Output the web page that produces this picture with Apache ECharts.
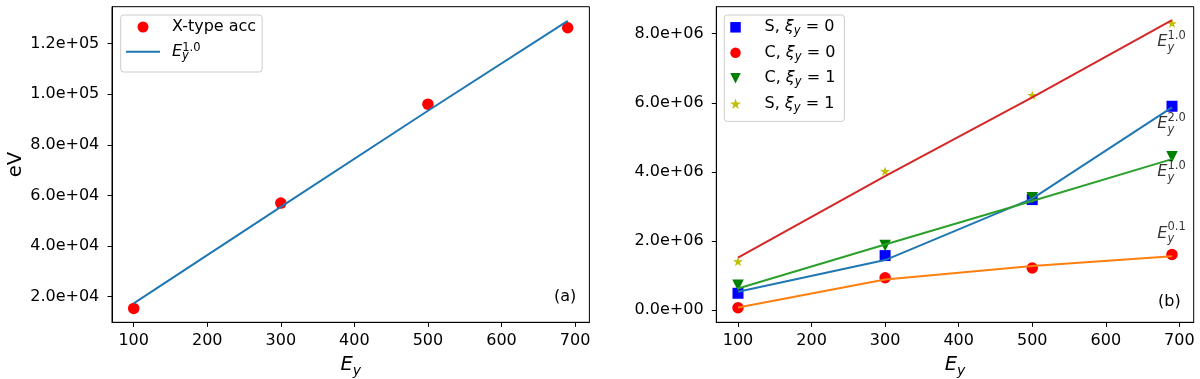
<!DOCTYPE html>
<html>
<head>
<meta charset="utf-8">
<script src="https://cdn.jsdelivr.net/npm/echarts@6/dist/echarts.min.js"></script>
<style>
html,body{margin:0;padding:0;background:#fff;}
#c{width:1200px;height:379px;}
</style>
</head>
<body>
<div id="c"></div>
<script>
// ---------- data ----------
const xVals = [100, 300, 500, 690];
const xTicks = [100, 200, 300, 400, 500, 600, 700];

// panel (a)
const aTicksY = [20000, 40000, 60000, 80000, 100000, 120000];
const aPoints = [15400, 57000, 96100, 126300];
const aFit = [17400, 55500, 93500, 129000];

// panel (b)
const bTicksY = [0, 2000000, 4000000, 6000000, 8000000];
const bS0 = [490000, 1580000, 3200000, 5900000];   // S, xi_y = 0 (squares)
const bC0 = [70000, 940000, 1220000, 1610000];     // C, xi_y = 0 (circles)
const bC1 = [720000, 1870000, 3250000, 4440000];   // C, xi_y = 1 (triangles)
const bS1 = [1410000, 4020000, 6220000, 8300000];  // S, xi_y = 1 (stars)
const fitS1 = [1520000, 3880000, 6160000, 8390000]; // red
const fitS0 = [535000, 1450000, 3230000, 5870000];  // blue
const fitC1 = [630000, 1900000, 3160000, 4370000];  // green
const fitC0 = [80000, 890000, 1280000, 1560000];    // orange
const bAnnotExp = ['1.0', '2.0', '1.0', '0.1'];

// ---------- helpers ----------
const pair = (xs, ys) => xs.map((x, i) => [x, ys[i]]);
function sci(v) {
  const s = Number(v).toExponential(1);
  const parts = s.split('e');
  const sign = parts[1][0];
  const d = parts[1].slice(1).padStart(2, '0');
  return parts[0] + 'e' + sign + d;
}
const FONT = 'DejaVu Sans';
const mathRich = {
  e: {fontFamily: FONT, fontStyle: 'italic', fontSize: 16, color: '#000', lineHeight: 24, verticalAlign: 'middle'},
  sb: {fontFamily: FONT, fontStyle: 'italic', fontSize: 11.5, color: '#000', lineHeight: 12, verticalAlign: 'bottom', width: 0.1},
  sp: {fontFamily: FONT, fontSize: 11.5, color: '#000', lineHeight: 12, verticalAlign: 'top'}
};
const legRich = {
  n: {fontFamily: FONT, fontSize: 16, color: '#000', lineHeight: 20, verticalAlign: 'middle'},
  i: {fontFamily: FONT, fontStyle: 'italic', fontSize: 16, color: '#000', lineHeight: 20, verticalAlign: 'middle'},
  s: {fontFamily: FONT, fontStyle: 'italic', fontSize: 11.5, color: '#000', lineHeight: 11, verticalAlign: 'bottom'},
  e: {fontFamily: FONT, fontStyle: 'italic', fontSize: 16, color: '#000', lineHeight: 20, verticalAlign: 'middle'},
  sb: {fontFamily: FONT, fontStyle: 'italic', fontSize: 11.5, color: '#000', lineHeight: 10, verticalAlign: 'bottom', width: 0.1},
  sp: {fontFamily: FONT, fontSize: 11.5, color: '#000', lineHeight: 10, verticalAlign: 'top'}
};
const STAR = 'path://M0,-1L0.2245,-0.309L0.951,-0.309L0.363,0.118L0.588,0.809L0,0.382L-0.588,0.809L-0.363,0.118L-0.951,-0.309L-0.2245,-0.309Z';
const SQUARE = 'path://M0,0L1,0L1,1L0,1Z';
const TRI_DOWN = 'path://M0,0L2,0L1,2Z';
const HLINE = 'path://M0,0L34,0L34,2L0,2Z';

const grids = [
  {left: 112, top: 6.7, width: 477.4, height: 315.6},
  {left: 716.3, top: 6.7, width: 477.4, height: 315.6}
];
grids.forEach(g => { g.show = true; g.borderColor = '#000'; g.borderWidth = 1; g.backgroundColor = 'transparent'; g.containLabel = false; g.outerBoundsMode = 'none'; });

function xAxis(idx) {
  return {
    type: 'value', gridIndex: idx, min: 70.5, max: 719.5,
    name: '{e|E}{s|y}', nameLocation: 'middle', nameGap: 30,
    nameTextStyle: {
      rich: {
        e: {fontFamily: FONT, fontStyle: 'italic', fontSize: 19.5, color: '#000', lineHeight: 26, verticalAlign: 'middle'},
        s: {fontFamily: FONT, fontStyle: 'italic', fontSize: 14, color: '#000', lineHeight: 14, verticalAlign: 'bottom'}
      }
    },
    axisLine: {show: true, onZero: false, lineStyle: {color: '#000', width: 1}},
    axisTick: {show: true, length: 4.5, lineStyle: {color: '#000', width: 1}, customValues: xTicks},
    axisLabel: {show: true, margin: 11, fontFamily: FONT, fontSize: 16, color: '#000', customValues: xTicks},
    splitLine: {show: false}
  };
}
function yAxis(idx, min, max, ticks, name) {
  return {
    type: 'value', gridIndex: idx, min: min, max: max,
    name: name, nameLocation: 'middle', nameRotate: 90, nameGap: 86,
    nameTextStyle: {fontFamily: FONT, fontSize: 19.5, color: '#000'},
    axisLine: {show: true, onZero: false, lineStyle: {color: '#000', width: 1}},
    axisTick: {show: true, length: 4.5, lineStyle: {color: '#000', width: 1}, customValues: ticks},
    axisLabel: {show: true, margin: 12.7, fontFamily: FONT, fontSize: 16, color: '#000', customValues: ticks, formatter: sci},
    splitLine: {show: false}
  };
}

const lineSeries = (name, data, color, xi, yi) => ({
  name: name, type: 'line', xAxisIndex: xi, yAxisIndex: yi, data: pair(xVals, data),
  showSymbol: false, symbol: 'none', silent: true, animation: false,
  lineStyle: {color: color, width: 2}, itemStyle: {color: color}, z: 3
});
const scatterSeries = (name, data, color, symbol, size, xi, yi, rot) => ({
  name: name, type: 'scatter', xAxisIndex: xi, yAxisIndex: yi, data: pair(xVals, data),
  symbol: symbol, symbolSize: size, symbolRotate: rot || 0, symbolKeepAspect: true,
  itemStyle: {color: color, opacity: 1},
  silent: true, animation: false, z: 2
});

const annotX = 670;
const annotY = [7750000, 5390000, 3990000, 2220000];

const option = {
  backgroundColor: '#fff',
  animation: false,
  grid: grids,
  xAxis: [xAxis(0), xAxis(1)],
  yAxis: [
    yAxis(0, 9900, 134600, aTicksY, 'eV'),
    yAxis(1, -350000, 8780000, bTicksY, '')
  ],
  legend: [
    {
      orient: 'vertical', left: 120.7, top: 15,
      padding: [4, 6, 10.3, 5.3], itemGap: 6.7, itemWidth: 34, itemHeight: 11,
      backgroundColor: 'rgba(255,255,255,0.8)', borderColor: '#cccccc', borderWidth: 1, borderRadius: 3,
      selectedMode: false, symbolKeepAspect: true,
      data: [{name: 'X-type acc', icon: 'circle'}, {name: 'Ey10', icon: HLINE}],
      formatter: n => n === 'Ey10' ? '{e|E}{sb|y}{sp|1.0}' : '{n|' + n + '}',
      textStyle: {padding: [0, 0, 0, 7], rich: legRich}
    },
    {
      orient: 'vertical', left: 724.3, top: 15,
      padding: [4.3, 9, 7.6, 5.7], itemGap: 7.5, itemWidth: 34, itemHeight: 10.5,
      backgroundColor: 'rgba(255,255,255,0.8)', borderColor: '#cccccc', borderWidth: 1, borderRadius: 3,
      selectedMode: false, symbolKeepAspect: true,
      data: [
        {name: 'S0', icon: SQUARE},
        {name: 'C0', icon: 'circle'},
        {name: 'C1', icon: TRI_DOWN},
        {name: 'S1', icon: STAR}
      ],
      formatter: n => {
        const lab = n[0] === 'S' ? 'S' : 'C';
        return '{n|' + lab + ', }{i|ξ}{s|y}{n| = ' + n[1] + '}';
      },
      textStyle: {padding: [0, 0, 0, 7], rich: legRich}
    }
  ],
  series: [
    scatterSeries('X-type acc', aPoints, '#ff0000', 'circle', 11.5, 0, 0),
    lineSeries('Ey10', aFit, '#1f77b4', 0, 0),

    scatterSeries('S0', bS0, '#0000ff', 'rect', 11, 1, 1),
    scatterSeries('C0', bC0, '#ff0000', 'circle', 11.5, 1, 1),
    scatterSeries('C1', bC1, '#008000', 'triangle', 11.5, 1, 1, 180),
    scatterSeries('S1', bS1, '#bfbf00', STAR, 10, 1, 1),
    lineSeries('fitS1', fitS1, '#d62728', 1, 1),
    lineSeries('fitS0', fitS0, '#1f77b4', 1, 1),
    lineSeries('fitC1', fitC1, '#2ca02c', 1, 1),
    lineSeries('fitC0', fitC0, '#ff7f0e', 1, 1),
    {
      name: 'annot', type: 'scatter', xAxisIndex: 1, yAxisIndex: 1,
      data: annotY.map((y, i) => ({value: [annotX, y], name: bAnnotExp[i]})),
      symbolSize: 0, silent: true, animation: false, z: 5,
      label: {
        show: true, position: [0, 0], align: 'left', verticalAlign: 'middle',
        formatter: p => '{e|E}{sb|y}{sp|' + p.name + '}',
        rich: mathRich
      }
    }
  ],
  graphic: [
    {type: 'text', left: 554, top: 289, silent: true,
     style: {text: '(a)', fontFamily: FONT, fontSize: 16, fill: '#000'}},
    {type: 'text', left: 1158, top: 293.5, silent: true,
     style: {text: '(b)', fontFamily: FONT, fontSize: 16, fill: '#000'}}
  ]
};

const chart = echarts.init(document.getElementById('c'), null, {renderer: 'canvas'});
chart.setOption(option);
</script>
</body>
</html>
